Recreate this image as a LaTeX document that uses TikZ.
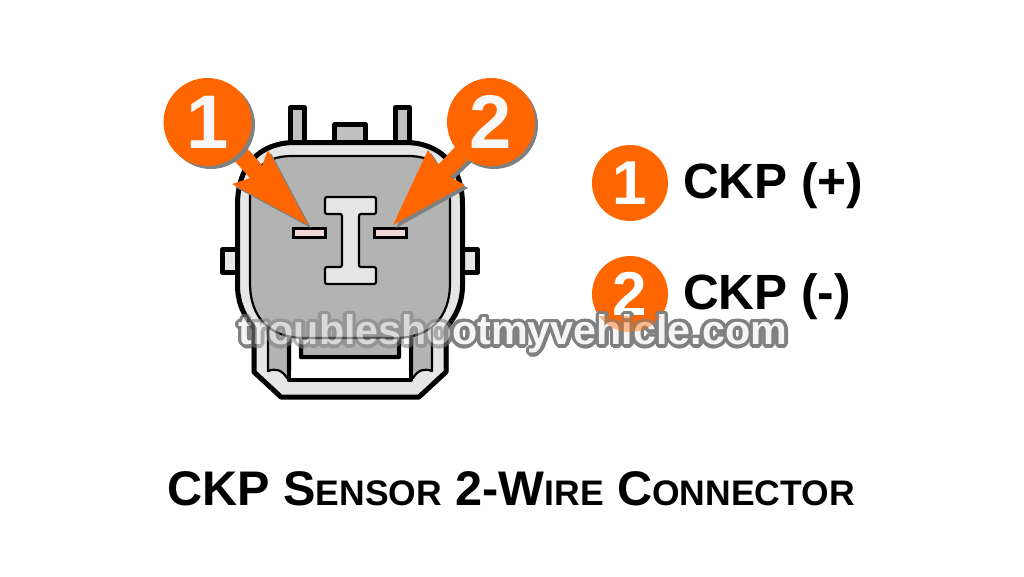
\documentclass[tikz,border=0pt]{standalone}
\usepackage{fontspec}
\setmainfont{Liberation Sans}
\usetikzlibrary{positioning}
\definecolor{pinorange}{HTML}{FF6600}
\definecolor{bodygray}{HTML}{B3B3B3}
\definecolor{shellgray}{HTML}{E6E6E6}
\definecolor{tabgray}{HTML}{C0C0C0}
\definecolor{pinpink}{HTML}{F4D7D7}
\definecolor{markgray}{HTML}{808080}
\tikzstyle{shell}=[draw=black,line width=5pt,line join=round]
\tikzstyle{thinshell}=[draw=black,line width=2.2pt,line join=round]
\tikzstyle{badge}=[circle,fill=pinorange,text=white,inner sep=0pt,font=\bfseries]
\tikzstyle{legend}=[font=\bfseries\fontsize{49.5}{50}\selectfont,text=black,inner sep=0pt,anchor=west]
\newcommand{\wmtext}{\bfseries\fontsize{41.3}{41}\selectfont troubleshootmyvehicle.com}
\newcommand{\shellparts}{%
\draw[shell,fill=shellgray] (295,142.5) -- (405,142.5)
  .. controls (440,142.5) and (462.5,165) .. (462.5,205) -- (462.5,285)
  .. controls (462.5,303) and (456,316) .. (446,328) -- (446,372) -- (419,397) -- (281,397) -- (254,372) -- (254,328)
  .. controls (244,316) and (237.5,303) .. (237.5,285) -- (237.5,205)
  .. controls (237.5,165) and (260,142.5) .. (295,142.5) -- cycle;
\draw[thinshell,fill=bodygray] (268,325) -- (268,371) .. controls (276,368) and (282,370) .. (287,378)
  -- (413,378) .. controls (418,370) and (424,368) .. (432,371) -- (432,325) -- cycle;
\draw[shell,line width=4.5pt,fill=white] (289,330) -- (289,380) -- (411,380) -- (411,330) -- cycle;
\draw[shell,line width=4.5pt,fill=bodygray] (301,330) -- (301,357) -- (399,357) -- (399,330) -- cycle;
\draw[thinshell,fill=bodygray] (292,156) -- (408,156) .. controls (435,156) and (450,170) .. (450,195)
  -- (450,283) .. controls (450,318) and (430,338) .. (395,338) -- (305,338)
  .. controls (270,338) and (250,318) .. (250,283) -- (250,195)
  .. controls (250,170) and (265,156) .. (292,156) -- cycle;}
\begin{document}
\begin{tikzpicture}[x=1pt,y=-1pt]
\useasboundingbox (0,0) rectangle (1024,576);
% tabs
\draw[shell,fill=tabgray] (290.5,143) -- (290.5,107.5) -- (304.5,107.5) -- (304.5,143);
\draw[shell,fill=tabgray] (395.5,143) -- (395.5,107.5) -- (409.5,107.5) -- (409.5,143);
\draw[shell,fill=tabgray] (334.5,143) -- (334.5,124.5) -- (365.5,124.5) -- (365.5,143);
\draw[shell,fill=shellgray] (238,249.5) -- (222.5,249.5) -- (222.5,272.5) -- (238,272.5);
\draw[shell,fill=shellgray] (462,249.5) -- (477.5,249.5) -- (477.5,272.5) -- (462,272.5);
% shell, latch and inner face
\shellparts
\draw[thinshell,fill=shellgray,rounded corners=2pt] (325,197) -- (376,197) -- (376,214) -- (359,214) -- (359,267) -- (376,267) -- (376,284) -- (325,284) -- (325,267) -- (342,267) -- (342,214) -- (325,214) -- cycle;
\node[draw=black,line width=3.5pt,fill=pinpink,minimum width=32pt,minimum height=9pt,inner sep=0pt] (pinA) at (309.5,233) {};
\node[draw=black,line width=3.5pt,fill=pinpink,minimum width=32pt,minimum height=9pt,inner sep=0pt] (pinB) at (390.5,233) {};
% arrows, shadow first
\fill[markgray] (311,228) -- (235,187) -- (253,181) -- (235,161) -- (250,151) -- (265,169) -- (271,153) -- cycle;
\fill[markgray] (396,228) -- (468,188) -- (453,180) -- (473,161) -- (458,150) -- (441,168) -- (431,153) -- cycle;
\fill[pinorange] (308,225) -- (232,184) -- (250,178) -- (232,158) -- (247,148) -- (262,166) -- (268,150) -- cycle;
\fill[pinorange] (393,225) -- (465,185) -- (450,177) -- (470,158) -- (455,147) -- (438,165) -- (428,150) -- cycle;
\fill[markgray] (211,125) circle (44);
\fill[markgray] (494,125) circle (44);
\node[badge,minimum size=88pt,font=\bfseries\fontsize{76}{76}\selectfont,text=white!97!black] (markA) at (207.5,122) {1};
\node[badge,minimum size=88pt,font=\bfseries\fontsize{76}{76}\selectfont,text=white!97!black] (markB) at (491,122) {2};
% legend
\node[badge,minimum size=76pt,font=\bfseries\fontsize{62}{62}\selectfont] (keyA) at (630,183) {1};
\node[badge,minimum size=76pt,font=\bfseries\fontsize{62}{62}\selectfont] (keyB) at (630,294) {2};
\node[legend] (labelA) at (683,186) {CKP (+)};
\node[legend] (labelB) at (683,297) {CKP (-)};
% watermark
\foreach \ang in {0,20,...,340}
  \node[text=markgray,inner sep=0pt] at ([shift={(\ang:3.5)}]513,334) {\wmtext};
\node[text=white!96!black,inner sep=0pt] (mark) at (513,334) {\wmtext};
% same shapes again, so they show through the watermark
\begin{scope}[transparency group,opacity=.42]
\clip (230,300) rectangle (700,370);
\shellparts
\clip (590,316) rectangle (670,340);
\fill[pinorange] (keyB) circle (38);
\end{scope}
% title
\node[inner sep=0pt,font=\bfseries\fontsize{48.6}{48}\selectfont] (title) at (511,489) {CKP S{\fontsize{35.5}{35}\selectfont ENSOR} 2-W{\fontsize{35.5}{35}\selectfont IRE} C{\fontsize{35.5}{35}\selectfont ONNECTOR}};
\end{tikzpicture}
\end{document}
